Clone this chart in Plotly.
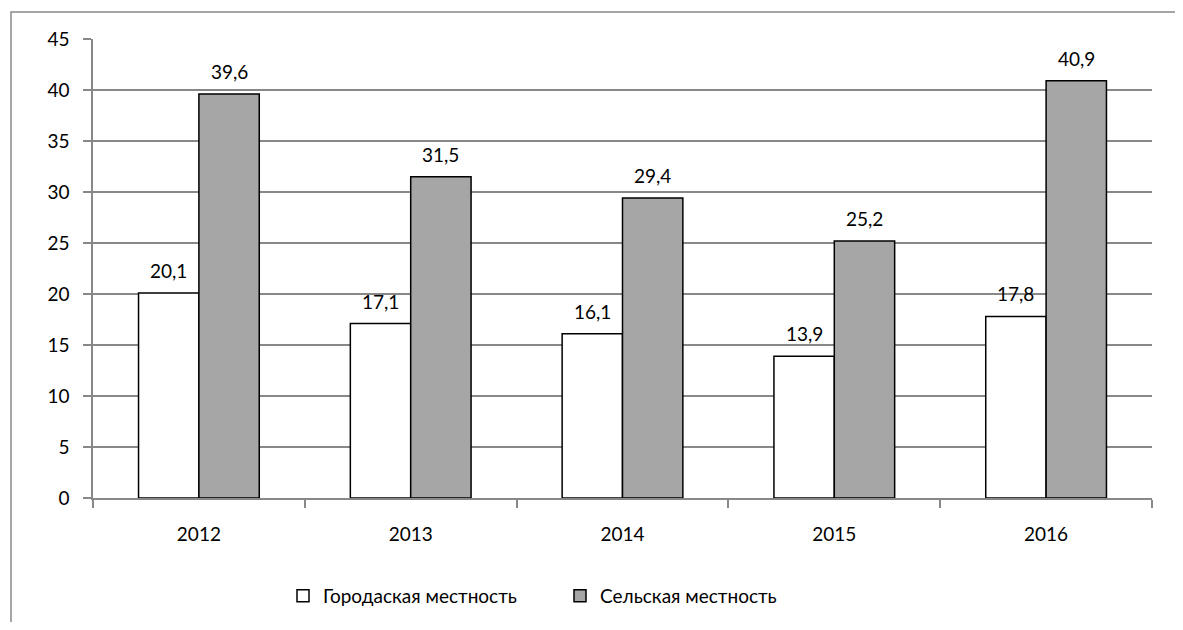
import plotly.graph_objects as go

years = ["2012", "2013", "2014", "2015", "2016"]
urban = [20.1, 17.1, 16.1, 13.9, 17.8]
rural = [39.6, 31.5, 29.4, 25.2, 40.9]
series_names = ["Городаская местность", "Сельская местность"]
y_ticks = [0, 5, 10, 15, 20, 25, 30, 35, 40, 45]

FONT = "Lato"
FS = 19
# page body has an 8px margin; figure sized/offset to compensate
W, H = 1167, 614
ML, MT = 85, 31
PW, PH = 1059, 459
MR, MB = W - ML - PW, H - MT - PH
BARGAP = 0.43

fig = go.Figure()
fig.add_trace(go.Bar(x=years, y=urban, name=series_names[0],
                     marker=dict(color="white", line=dict(color="black", width=1.5))))
fig.add_trace(go.Bar(x=years, y=rural, name=series_names[1],
                     marker=dict(color="#a6a6a6", line=dict(color="black", width=1.5))))

# value labels (category index positions)
bar_px = PW / len(years) * (1 - BARGAP) / 2
for vals, sh in ((urban, -bar_px / 2), (rural, bar_px / 2)):
    for i, v in enumerate(vals):
        fig.add_annotation(x=i, y=v, xref="x", yref="y", text=f"{v:.1f}".replace(".", ","),
                           showarrow=False, xshift=sh, yshift=9, yanchor="bottom",
                           font=dict(family=FONT, size=FS, color="black"))

# outer chart border (left/top visible, right/bottom run off the page)
fig.add_shape(type="rect", xref="paper", yref="paper",
              x0=(3 - ML) / PW, x1=(W + 60 - ML) / PW,
              y0=-(H + 60 - (MT + PH)) / PH, y1=(MT + PH - 4) / PH,
              line=dict(color="#888888", width=1.5), fillcolor="rgba(0,0,0,0)", layer="below")

fig.update_layout(
    width=W, height=H,
    margin=dict(l=ML, r=MR, t=MT, b=MB, autoexpand=False),
    paper_bgcolor="white", plot_bgcolor="white",
    barmode="group", bargap=BARGAP, bargroupgap=0,
    font=dict(family=FONT, size=FS, color="black"),
    showlegend=True,
    legend=dict(orientation="h", x=(275 - ML) / PW, xanchor="left", y=-0.2135, yanchor="middle",
                font=dict(family=FONT, size=FS), entrywidth=232, entrywidthmode="pixels",
                itemwidth=30, traceorder="normal"),
)
fig.update_xaxes(type="category", range=[-0.5, len(years) - 0.5], showgrid=False,
                 showline=True, linecolor="#888888", linewidth=1.5,
                 ticks="outside", tickson="boundaries", ticklen=8, tickcolor="#888888", tickwidth=1.5,
                 ticklabelstandoff=18, tickangle=0, tickfont=dict(family=FONT, size=FS))
fig.update_yaxes(range=[0, 45], tickvals=y_ticks, showgrid=True, gridcolor="#888888", gridwidth=1.5,
                 showline=True, linecolor="#888888", linewidth=1.5, zeroline=False,
                 ticks="outside", ticklen=8, tickcolor="#888888", tickwidth=1.5,
                 ticklabelstandoff=10, tickfont=dict(family=FONT, size=FS))

fig.write_html("out.html")
